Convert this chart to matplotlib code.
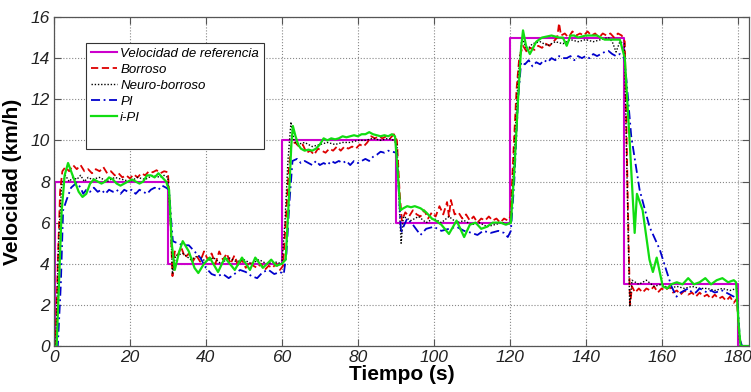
import matplotlib
matplotlib.use("Agg")
import matplotlib.pyplot as plt
from matplotlib.lines import Line2D

# ---------------- data ----------------
ref_t = [0, 0.3, 30, 60, 90, 120, 150, 180, 183]
ref_v = [0, 8, 4, 10, 6, 15, 3, 0, 0]

borroso_t = [0, 0.4, 1.0, 1.6, 2.2, 3, 4, 5, 6, 7, 8, 9, 10, 11, 12, 13, 14, 15, 16, 17, 18, 19, 20,
             21, 22, 23, 24, 25, 26, 27, 28, 29, 30, 30.6, 31.2, 31.8, 32.5, 33.5, 34.5, 35.5, 36.5,
             37.5, 38.5, 39.5, 40.5, 41.5, 42.5, 43.5, 44.5, 45.5, 46.5, 47.5, 48.5, 49.5, 50.5, 51.5,
             52.5, 53.5, 54.5, 55.5, 56.5, 57.5, 58.5, 59.5, 60.3, 61.0, 61.8, 62.5, 63.5, 64.5, 65.5,
             66.5, 67.5, 68.5, 69.5, 70.5, 71.5, 72.5, 73.5, 74.5, 75.5, 76.5, 77.5, 78.5, 79.5, 80.5,
             81.5, 82.5, 83.5, 84.5, 85.5, 86.5, 87.5, 88.5, 89.5, 90.3, 91.0, 91.6, 92.5, 93.5, 94.5,
             95.5, 96.5, 97.5, 98.5, 99.5, 100.5, 101.5, 102.5, 103.5, 104.0, 104.5, 105.5, 106.5,
             107.5, 108.5, 109.5, 110.5, 111.5, 112.5, 113.5, 114.5, 115.5, 116.5, 117.5, 118.5,
             119.5, 120.2, 121.0, 121.8, 122.5, 123.5, 124.5, 125.5, 126.5, 127.5, 128.5, 129.5,
             130.5, 131.5, 132.5, 133.0, 133.5, 134.5, 135.5, 136.5, 137.5, 138.5, 139.5, 140.5,
             141.5, 142.5, 143.5, 144.5, 145.5, 146.5, 147.5, 148.5, 149.5, 150.3, 150.8, 151.3,
             151.7, 152.2, 153, 154, 155, 156, 157, 158, 159, 160, 161, 162, 163, 164, 165, 166, 167,
             168, 169, 170, 171, 172, 173, 174, 175, 176, 177, 178, 179, 179.8, 180.4, 181, 183]
borroso_v = [0, 0, 4, 7.5, 8.5, 8.7, 8.5, 8.8, 8.6, 8.8, 8.5, 8.6, 8.4, 8.6, 8.5, 8.7, 8.4, 8.5, 8.3,
             8.4, 8.2, 8.3, 8.15, 8.35, 8.2, 8.4, 8.3, 8.5, 8.45, 8.55, 8.4, 8.5, 8.45, 6.5, 3.4, 4.6,
             4.4, 4.8, 4.3, 4.5, 4.1, 4.4, 4.1, 4.6, 4.2, 4.5, 4.0, 4.6, 4.2, 4.5, 4.0, 4.4, 3.9, 4.2,
             3.8, 4.1, 3.9, 3.8, 4.0, 3.7, 3.9, 3.8, 4.0, 3.7, 3.9, 6.0, 8.5, 9.8, 9.9, 9.7, 9.8, 9.4,
             9.5, 9.3, 9.6, 9.5, 9.4, 9.6, 9.5, 9.7, 9.5, 9.7, 9.6, 9.7, 9.6, 9.8, 9.7, 9.9, 10.2, 10.1,
             10.2, 10.1, 10.2, 10.1, 10.3, 10.0, 7.5, 6.1, 6.5, 6.3, 6.6, 6.4, 6.3, 6.6, 6.2, 6.5, 6.3,
             6.8, 6.4, 7.0, 6.3, 7.1, 6.4, 6.5, 6.2, 6.4, 6.1, 6.3, 6.0, 6.2, 6.1, 6.3, 6.1, 6.2, 6.0,
             6.2, 6.1, 6.3, 9.5, 12.5, 14.0, 14.6, 14.3, 14.5, 14.4, 14.6, 14.5, 14.7, 14.6, 14.8, 15.0,
             15.7, 15.1, 15.2, 15.0, 15.3, 15.1, 15.2, 15.1, 15.3, 15.1, 15.2, 15.0, 15.2, 15.1, 15.2,
             15.0, 15.2, 15.1, 14.8, 10.0, 5.0, 2.0, 2.9, 2.6, 2.8, 2.6, 2.8, 2.7, 2.9, 2.6, 2.8, 2.7,
             2.9, 2.6, 2.7, 2.5, 2.7, 2.5, 2.6, 2.4, 2.6, 2.4, 2.5, 2.3, 2.5, 2.3, 2.4, 2.2, 2.4, 2.1,
             2.3, 0.5, 0, 0]

neuro_t = [0, 0.5, 1.2, 2.0, 3, 4, 5, 6, 7, 8, 9, 10, 12, 14, 16, 18, 20, 22, 24, 26, 28, 29, 30,
           30.7, 31.2, 32, 34, 36, 38, 40, 42, 44, 46, 48, 50, 52, 54, 56, 58, 60, 60.8, 61.6, 62.4,
           63.2, 64, 66, 68, 70, 72, 74, 76, 78, 80, 82, 84, 86, 88, 89.5, 90.3, 91, 91.4, 92, 94,
           96, 98, 100, 102, 104, 106, 108, 110, 112, 114, 116, 118, 119.5, 120.3, 121.2, 122.2,
           123.2, 124.5, 126, 128, 130, 132, 134, 136, 138, 140, 142, 144, 146, 147, 148, 149,
           150.2, 150.8, 151.6, 152.2, 154, 156, 158, 160, 162, 164, 166, 168, 170, 172, 174, 176,
           178, 179.8, 180.5, 181, 183]
neuro_v = [0, 0, 5, 7.8, 8.3, 8.0, 8.2, 8.1, 8.3, 8.0, 8.2, 8.1, 8.2, 8.0, 8.2, 8.1, 8.0, 8.2, 8.1,
           8.3, 8.2, 8.3, 8.2, 6.0, 3.5, 4.4, 4.5, 4.2, 4.4, 4.1, 4.3, 4.0, 4.3, 4.1, 4.2, 4.0, 4.2,
           4.0, 4.1, 4.0, 6.0, 9.0, 10.9, 10.0, 9.8, 9.9, 9.7, 9.8, 9.9, 9.8, 9.9, 9.9, 10.0, 10.0,
           10.1, 10.0, 10.1, 10.0, 9.8, 6.5, 5.0, 6.3, 6.1, 6.3, 6.0, 6.2, 6.0, 6.3, 6.0, 6.1, 5.9,
           6.0, 5.8, 5.9, 6.0, 5.9, 6.0, 9.5, 13.0, 15.0, 14.4, 14.7, 14.8, 14.6, 14.8, 14.7, 14.9,
           14.8, 14.9, 14.8, 14.9, 15.0, 14.8, 14.3, 14.8, 14.7, 9.0, 1.9, 3.2, 3.0, 3.2, 2.9, 3.0,
           2.8, 2.9, 2.8, 2.9, 2.8, 2.8, 2.7, 2.8, 2.7, 2.8, 0.3, 0, 0]

pi_t = [0, 1.0, 1.8, 2.4, 3.3, 4.5, 6, 7, 7.7, 8.5, 9.5, 10.5, 11.5, 12.5, 13.5, 14.5, 15.5, 16.5,
        17.5, 18.5, 19.5, 20.5, 21.5, 22.5, 23.5, 24.5, 25.5, 26.5, 27.5, 28.5, 29.5, 30.3, 30.9,
        31.3, 32.5, 34, 35.5, 37, 38.5, 40, 41.5, 43, 44.5, 46, 47.5, 49, 50.5, 52, 53.5, 55, 56.5,
        58, 59.5, 60.5, 61.2, 62.0, 62.8, 64, 65, 66, 67, 68, 69, 70, 71, 72, 73, 74, 75, 76, 77,
        78, 79, 80, 81, 82, 83, 84, 85, 86, 87, 88, 89, 90.2, 90.8, 91.4, 92, 93, 94.5, 96.5, 98,
        100, 102, 104, 106, 108, 110, 111.5, 113, 115, 117, 118.5, 119.5, 120.3, 121.2, 122.2,
        123.0, 124, 125, 126, 127, 128, 129, 130, 131, 132, 133, 134, 135, 136, 137, 138, 139, 140,
        141, 142, 143, 144, 145, 146, 147, 148, 149, 150.2, 150.8, 152.0, 154.2, 156.8, 159.5,
        161.2, 162.6, 163.9, 165, 166, 167, 168, 169, 170, 171, 172, 173, 174, 175, 176, 177, 178,
        179, 180, 180.6, 181.2, 183]
pi_v = [0, 0, 3, 6.6, 7.1, 7.7, 7.95, 7.7, 7.4, 7.6, 7.5, 7.7, 7.5, 7.6, 7.4, 7.6, 7.5, 7.6, 7.4,
        7.6, 7.5, 7.6, 7.4, 7.6, 7.5, 7.4, 7.6, 7.7, 7.6, 7.8, 7.7, 7.6, 6.0, 5.1, 5.0, 4.9, 4.9,
        4.6, 4.3, 3.8, 3.5, 3.4, 3.5, 3.3, 3.5, 3.7, 3.6, 3.4, 3.3, 3.6, 3.7, 3.5, 3.6, 3.5, 4.5,
        7.0, 9.0, 9.1, 8.9, 9.0, 8.9, 8.8, 9.0, 8.8, 8.9, 8.8, 9.0, 8.9, 9.0, 8.9, 9.0, 8.8, 9.0,
        8.9, 9.0, 9.1, 9.0, 9.2, 9.3, 9.45, 9.4, 9.5, 9.45, 9.4, 7.5, 5.5, 5.8, 6.2, 5.9, 5.4, 5.7,
        5.8, 5.6, 5.7, 5.8, 5.6, 5.5, 5.4, 5.6, 5.5, 5.6, 5.5, 5.3, 5.6, 8.0, 12.0, 13.8, 13.7,
        13.9, 13.6, 13.8, 13.7, 13.9, 13.8, 14.0, 13.9, 14.1, 14.0, 14.0, 14.1, 13.9, 14.1, 14.0,
        14.1, 14.0, 14.2, 14.1, 14.2, 14.3, 14.35, 14.2, 14.1, 14.2, 14.0, 12.8, 10.2, 7.6, 5.8,
        4.7, 3.7, 2.9, 2.4, 2.6, 2.7, 2.8, 2.6, 2.6, 2.8, 2.7, 2.6, 2.7, 2.6, 2.65, 2.7, 2.6, 2.5,
        2.4, 2.2, 0.3, 0, 0]

ipi_t = [0, 0.7, 1.3, 2.0, 2.8, 3.7, 4.5, 5.5, 6.5, 7.5, 8.5, 9.5, 10.5, 11.5, 12.5, 13.5, 14.5,
         15.5, 16.5, 17.5, 18.5, 19.5, 20.5, 21.5, 22.5, 23.5, 24.5, 25.5, 26.5, 27.5, 28.5, 29.5,
         30.3, 31.0, 31.8, 33.0, 33.9, 35.5, 37, 38, 39.5, 41, 43.2, 45, 47.6, 49.5, 51.6, 53, 55,
         57.2, 58.5, 60, 61.0, 61.8, 62.5, 62.9, 63.6, 64.3, 65, 66, 67, 68, 69, 70, 71, 72, 73,
         74, 75, 76, 77, 78, 79, 80, 81, 82, 83, 84, 85, 86, 87, 88, 89, 89.8, 90.5, 91.2, 92, 93,
         94, 95, 96.5, 98, 99.5, 100.5, 102, 104, 106, 108, 109.5, 111, 112.5, 114, 115.5, 117.6,
         119, 120.3, 121.2, 122.2, 123.0, 123.5, 124.3, 125.3, 127, 128.5, 131, 133, 134, 135, 136,
         137, 138, 140, 142, 143, 145, 147, 149, 150.3, 151.6, 152.9, 153.5, 155, 156.8, 157.7,
         158.7, 160.3, 161.5, 162.5, 164, 165.5, 167, 168.5, 170, 171.5, 173, 174.5, 176, 177.5,
         179, 179.6, 180.3, 180.8, 183]
ipi_v = [0, 0, 3, 6.5, 8.3, 8.9, 8.5, 8.0, 7.5, 7.25, 7.4, 7.9, 8.1, 8.0, 7.9, 8.0, 8.2, 8.1, 7.9,
         7.8, 7.9, 8.0, 8.1, 8.0, 7.9, 8.0, 8.3, 8.3, 8.2, 8.4, 8.2, 8.0, 7.6, 5.0, 3.7, 4.6, 5.1,
         4.6, 3.8, 3.55, 4.0, 4.3, 3.6, 4.3, 3.7, 4.3, 3.7, 4.3, 3.8, 4.2, 3.9, 4.0, 4.2, 7.0, 9.8,
         10.7, 10.2, 9.8, 9.6, 9.5, 9.55, 9.5, 9.6, 9.8, 10.1, 10.0, 10.1, 10.05, 10.1, 10.2, 10.15,
         10.2, 10.25, 10.2, 10.3, 10.3, 10.4, 10.3, 10.25, 10.2, 10.25, 10.2, 10.3, 10.2, 8.5, 6.6,
         6.7, 6.8, 6.75, 6.8, 6.7, 6.5, 6.2, 6.1, 5.9, 5.45, 6.1, 5.3, 5.9, 6.0, 5.7, 5.8, 6.0, 6.0,
         5.9, 6.0, 8.5, 12.0, 14.5, 15.35, 14.6, 14.2, 14.8, 15.0, 15.1, 15.0, 15.0, 14.6, 15.1,
         15.1, 15.0, 15.1, 15.1, 15.1, 14.9, 14.9, 14.9, 14.0, 9.9, 5.5, 7.4, 6.6, 4.2, 3.6, 4.3,
         2.9, 2.8, 3.0, 3.1, 3.0, 3.3, 3.0, 3.1, 3.3, 3.0, 3.2, 3.3, 3.1, 3.2, 3.1, 1.0, 0, 0]

labels = ["Velocidad de referencia", "Borroso", "Neuro-borroso", "PI", "i-PI"]
x_ticks = [0, 20, 40, 60, 80, 100, 120, 140, 160, 180]
y_ticks = [0, 2, 4, 6, 8, 10, 12, 14, 16]

# ---------------- figure ----------------
plt.rcParams['font.family'] = ['Liberation Sans', 'DejaVu Sans']
fig = plt.figure(figsize=(7.51, 3.92), dpi=100)
ax = fig.add_axes([0.0719, 0.1173, 0.9254, 0.8393])

ax.plot(ref_t, ref_v, drawstyle='steps-post', color='#CC00CC', lw=1.5, label=labels[0])
ax.plot(borroso_t, borroso_v, color='#DD0000', lw=1.3, ls=(0, (4, 2)), label=labels[1])
ax.plot(neuro_t, neuro_v, color='black', lw=1.0, ls=(0, (1, 1.3)), label=labels[2])
ax.plot(pi_t, pi_v, color='#0000CC', lw=1.3, ls=(0, (5, 2, 1, 2)), label=labels[3])
ax.plot(ipi_t, ipi_v, color='#11DD11', lw=1.6, label=labels[4])

ax.set_xlim(0, 183)
ax.set_ylim(0, 16)
ax.set_xticks(x_ticks)
ax.set_yticks(y_ticks)
ax.grid(True, ls=':', color='#888888', lw=0.8)
ax.tick_params(direction='in', top=True, right=True, length=5, color='#555555',
               labelsize=12.5, labelcolor='#222222', pad=3)
for lab in ax.get_xticklabels() + ax.get_yticklabels():
    lab.set_fontstyle('italic')
for s in ax.spines.values():
    s.set_color('#555555')
    s.set_linewidth(0.9)

ax.set_xlabel('Tiempo (s)', fontsize=15, fontweight='bold', labelpad=0)
ax.set_ylabel('Velocidad (km/h)', fontsize=15, fontweight='bold', labelpad=6)

handles, lbls = ax.get_legend_handles_labels()
handles.append(Line2D([], [], color='none'))
lbls.append(' ')
leg = ax.legend(handles, lbls, loc='upper left', bbox_to_anchor=(0.046, 0.921),
                borderaxespad=0, fancybox=False, framealpha=1, edgecolor='#333333',
                prop={'style': 'italic', 'size': 9.5}, handlelength=2.0, handletextpad=0.25,
                labelspacing=0.28, borderpad=0.35)
leg.get_texts()[-1].set_fontsize(13)
leg.get_frame().set_linewidth(0.8)

fig.savefig('out.png', dpi=100)
